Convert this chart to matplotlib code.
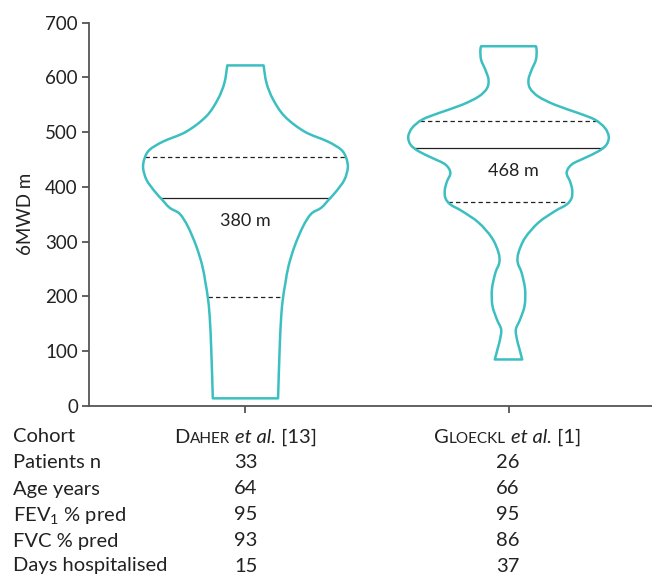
import numpy as np
import matplotlib
matplotlib.use("Agg")
import matplotlib.pyplot as plt
import matplotlib.transforms as mtransforms
from matplotlib.path import Path
from matplotlib.patches import PathPatch

FONT = "Lato"
plt.rcParams["font.family"] = [FONT, "DejaVu Sans"]
plt.rcParams["mathtext.fontset"] = "custom"
plt.rcParams["mathtext.rm"] = FONT
plt.rcParams["mathtext.it"] = FONT + ":italic"

TEAL = "#3cbfc0"
GREY = "#555555"
INK = "#222222"

# violin outlines: 6MWD level (m) and half-width (x units)
daher_y = [622, 590, 560, 529, 501, 483, 468, 453, 435, 413, 392, 378, 362,
           351, 328, 292, 256, 225, 198, 164, 104, 14]
daher_hw = [0.069, 0.080, 0.105, 0.149, 0.225, 0.313, 0.364, 0.383, 0.389,
            0.376, 0.345, 0.319, 0.288, 0.250, 0.219, 0.187, 0.164, 0.152,
            0.143, 0.136, 0.130, 0.124]
gloeckl_y = [657, 650, 632, 614, 596, 580, 565, 550, 535, 523, 508, 492, 477,
             465, 453, 441, 426, 410, 395, 380, 368, 356, 335, 307, 280, 262,
             243, 213, 183, 158, 140, 122, 107, 85]
gloeckl_hw = [0.104, 0.107, 0.104, 0.088, 0.076, 0.082, 0.114, 0.177, 0.265,
              0.328, 0.366, 0.381, 0.372, 0.341, 0.290, 0.240, 0.221, 0.234,
              0.242, 0.240, 0.221, 0.177, 0.114, 0.063, 0.038, 0.035, 0.050,
              0.063, 0.061, 0.044, 0.028, 0.032, 0.040, 0.052]

medians = [380, 472]
median_labels = ["380 m", "468 m"]
q1 = [199, 373]
q3 = [454, 520]

row_labels = ["Cohort", "Patients n", "Age years", "FEV$_1$ % pred",
              "FVC % pred", "Days hospitalised"]
daher_col = ["33", "64", "95", "93", "15"]
gloeckl_col = ["26", "66", "95", "86", "37"]


def smooth_side(xs, ys):
    # catmull-rom through the read points, as bezier segments
    p = np.column_stack([xs, ys])
    ext = np.vstack([p[0], p, p[-1]])
    verts, codes = [], []
    for k in range(1, len(ext) - 2):
        a, b, c, d = ext[k - 1], ext[k], ext[k + 1], ext[k + 2]
        verts += [b + (c - a) / 6, c - (d - b) / 6, c]
        codes += [Path.CURVE4] * 3
    return verts, codes


W, H = 652, 575
fig = plt.figure(figsize=(W / 100, H / 100), dpi=100)
ax = fig.add_axes([89 / W, (H - 406) / H, (W - 89) / W, (406 - 22.7) / H])

profiles = [(daher_y, daher_hw), (gloeckl_y, gloeckl_hw)]
for i, (ys, hw) in enumerate(profiles):
    pos = i + 1
    ys = np.array(ys, float)
    hw = np.array(hw, float)
    verts = [(pos - hw[0], ys[0])]
    codes = [Path.MOVETO]
    v, c = smooth_side(pos - hw, ys)
    verts += v; codes += c
    verts.append((pos + hw[-1], ys[-1])); codes.append(Path.LINETO)
    v, c = smooth_side((pos + hw)[::-1], ys[::-1])
    verts += v; codes += c
    verts.append((pos - hw[0], ys[0])); codes.append(Path.CLOSEPOLY)
    ax.add_patch(PathPatch(Path(verts, codes), facecolor="none", edgecolor=TEAL,
                           lw=1.8, joinstyle="round", zorder=3))
    # quartile and median lines reach the outline
    order = np.argsort(ys)
    for val, ls in [(q1[i], (0, (3.5, 2.5))), (q3[i], (0, (3.5, 2.5))), (medians[i], "-")]:
        w = np.interp(val, ys[order], hw[order])
        ax.plot([pos - w, pos + w], [val, val], color=INK, lw=0.9, ls=ls, zorder=2)
    ax.text(pos + (0.02 if i else 0), medians[i] - 42, median_labels[i], ha="center",
            va="center", fontsize=13, color=INK)

ax.set_xlim(1 - 157 / 264, 2 + 144 / 264)
ax.set_ylim(0, 700)
ax.set_yticks(range(0, 701, 100))
ax.set_xticks([1, 2])
ax.set_xticklabels([])
for s in ["top", "right"]:
    ax.spines[s].set_visible(False)
for s in ["left", "bottom"]:
    ax.spines[s].set_color(GREY)
    ax.spines[s].set_linewidth(1.3)
ax.tick_params(colors=GREY, width=1.3, length=5, labelsize=13.5, labelcolor=INK, pad=3)
ax.set_ylabel("6MWD m", fontsize=13.5, color=INK, labelpad=8)

# table under the axis
row_y = [437, 463, 489, 515, 541, 566]
col_x = [246, 508]
TS = 14.5


def fig_xy(x, y):
    return x / W, 1 - y / H


for lab, y in zip(row_labels, row_y):
    fig.text(*fig_xy(13, y), lab, ha="left", va="center", fontsize=TS, color=INK)
for vals, x in zip([daher_col, gloeckl_col], col_x):
    for v, y in zip(vals, row_y[1:]):
        fig.text(*fig_xy(x, y), v, ha="center", va="center", fontsize=TS, color=INK)

# cohort names with small caps surname
renderer = fig.canvas.get_renderer()
headers = [[("D", TS, "normal"), ("AHER", TS * 0.76, "normal"), (" ", TS, "normal"),
            ("et al.", TS, "italic"), (" [13]", TS, "normal")],
           [("G", TS, "normal"), ("LOECKL", TS * 0.76, "normal"), (" ", TS, "normal"),
            ("et al.", TS, "italic"), (" [1]", TS, "normal")]]
for parts, x in zip(headers, col_x):
    texts = []
    for s, size, style in parts:
        t = fig.text(0, 0, s, fontsize=size, style=style, color=INK)
        texts.append(t)
    widths = [t.get_window_extent(renderer).width for t in texts]
    start = x - sum(widths) / 2
    for t, w in zip(texts, widths):
        t.set_transform(mtransforms.IdentityTransform())
        t.set_position((start, H - row_y[0] - 6))
        t.set_va("baseline")
        start += w

fig.savefig("out.png", dpi=100)
